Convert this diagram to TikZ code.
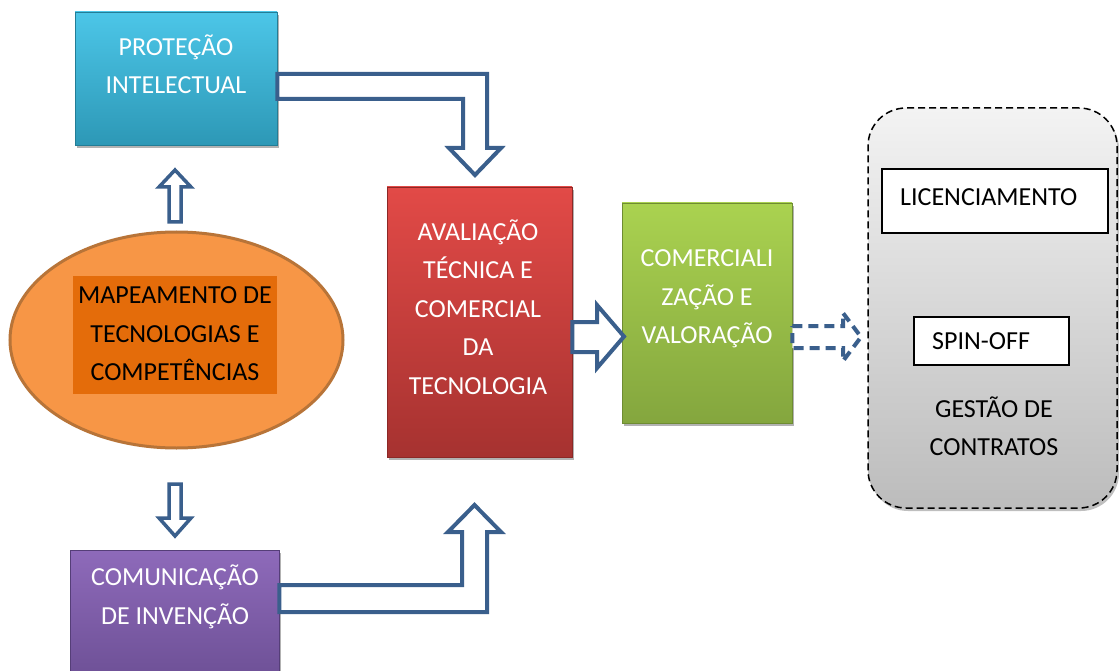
\documentclass[tikz,border=0pt]{standalone}
\usepackage{fontspec}
\setmainfont{Carlito}
\usetikzlibrary{shadows,shapes.geometric}
\definecolor{arr}{RGB}{58,95,140}
\definecolor{cyT}{RGB}{76,198,232}
\definecolor{cyB}{RGB}{45,152,182}
\definecolor{cyD}{RGB}{35,125,150}
\definecolor{rdT}{RGB}{226,74,71}
\definecolor{rdB}{RGB}{166,50,48}
\definecolor{rdD}{RGB}{140,40,38}
\definecolor{grT}{RGB}{170,210,80}
\definecolor{grB}{RGB}{132,166,62}
\definecolor{grD}{RGB}{110,140,50}
\definecolor{puT}{RGB}{142,106,186}
\definecolor{puB}{RGB}{104,76,144}
\definecolor{puD}{RGB}{85,62,120}
\definecolor{gyT}{RGB}{243,243,243}
\definecolor{gyB}{RGB}{188,188,188}
\definecolor{ellF}{RGB}{247,150,70}
\definecolor{ellB}{RGB}{184,116,56}
\definecolor{ellR}{RGB}{228,108,10}
\begin{document}
\begin{tikzpicture}[x=1pt,y=-1pt,
  box/.style={rectangle, inner sep=0, draw=#1, line width=0.8pt,
    drop shadow={shadow xshift=1.5pt, shadow yshift=-3pt, opacity=0.3, fill=black}},
  lab/.style={align=center, inner sep=0, font=\fontsize{26}{38.5}\selectfont, text=white},
  barrow/.style={draw=arr, line width=4pt, fill=white, line join=miter, miter limit=10},
  plainbox/.style={draw=black, line width=1.3pt, fill=white, inner sep=0},
]
\useasboundingbox (0,0) rectangle (1119,671);
\fill[white] (0,0) rectangle (1119,671);

% boxes
\node[box=cyD, top color=cyT, bottom color=cyB, minimum width=202pt, minimum height=133pt] (prot) at (176,78.5) {};
\node[lab] (protL) at (176,64) {PROTEÇÃO\\INTELECTUAL};

\node[ellipse, draw=ellB, line width=3pt, fill=ellF, minimum width=333pt, minimum height=216pt, inner sep=0] (map) at (176.5,340) {};
\node[fill=ellR, minimum width=204pt, minimum height=118pt, inner sep=0] (mapR) at (175,335) {};
\node[lab, text=black] (mapL) at (175,334) {MAPEAMENTO DE\\TECNOLOGIAS E\\COMPETÊNCIAS};

\node[box=puD, top color=puT, bottom color=puB, minimum width=209pt, minimum height=150pt] (com) at (174.5,625) {};
\node[lab] (comL) at (175,597) {COMUNICAÇÃO\\DE INVENÇÃO};

\node[box=rdD, top color=rdT, bottom color=rdB, minimum width=185pt, minimum height=270pt] (aval) at (479.5,322) {};
\node[lab] (avalL) at (478,307) {AVALIAÇÃO\\TÉCNICA E\\COMERCIAL\\DA\\TECNOLOGIA};

\node[box=grD, top color=grT, bottom color=grB, minimum width=170pt, minimum height=220pt] (comer) at (707,313) {};
\node[lab] (comerL) at (707,299) {COMERCIALI\\ZAÇÃO E\\VALORAÇÃO};

\node[draw=black, dash pattern=on 7pt off 4pt, line width=1.5pt, rounded corners=38pt,
  top color=gyT, bottom color=gyB, minimum width=249pt, minimum height=400pt, inner sep=0,
  drop shadow={shadow xshift=2pt, shadow yshift=-3pt, opacity=0.25, fill=black}] (gest) at (992.5,308) {};
\node[plainbox, minimum width=226pt, minimum height=64pt] (lic) at (995,201) {};
\node[lab, text=black, anchor=west] (licL) at (900,197) {LICENCIAMENTO};
\node[plainbox, minimum width=155pt, minimum height=48pt] (spin) at (991.5,341) {};
\node[lab, text=black, anchor=west] (spinL) at (932,341) {SPIN-OFF};
\node[lab, text=black] (gestL) at (994,426) {GESTÃO DE\\CONTRATOS};

% block arrows
\draw[barrow] (prot.east |- 0,74) -- (487,74) -- (487,148) -- (501,148) -- (475,175)
  -- (449,148) -- (463,148) -- (463,99) -- (prot.east |- 0,99) -- cycle;
\draw[barrow] (com.east |- 0,585) -- (462,585) -- (462,532) -- (448,532) -- (474.5,505)
  -- (501,532) -- (487,532) -- (487,612) -- (com.east |- 0,612) -- cycle;
\draw[barrow, line width=3.5pt] (169,222) -- (169,187) -- (159,187) -- (175,170)
  -- (191,187) -- (181,187) -- (181,222) -- cycle;
\draw[barrow, line width=3.5pt] (169,484) -- (181,484) -- (181,518) -- (191,518)
  -- (175,536) -- (159,518) -- (169,518) -- cycle;
\draw[barrow] (aval.east |- 0,322) -- (597,322) -- (597,305) -- (624,336.5)
  -- (597,368) -- (597,352) -- (aval.east |- 0,352) -- cycle;
\draw[barrow, dash pattern=on 10pt off 6pt] (comer.east |- 0,326) -- (843,326) -- (843,313)
  -- (861,337) -- (843,361) -- (843,348) -- (comer.east |- 0,348) -- cycle;
\end{tikzpicture}
\end{document}
